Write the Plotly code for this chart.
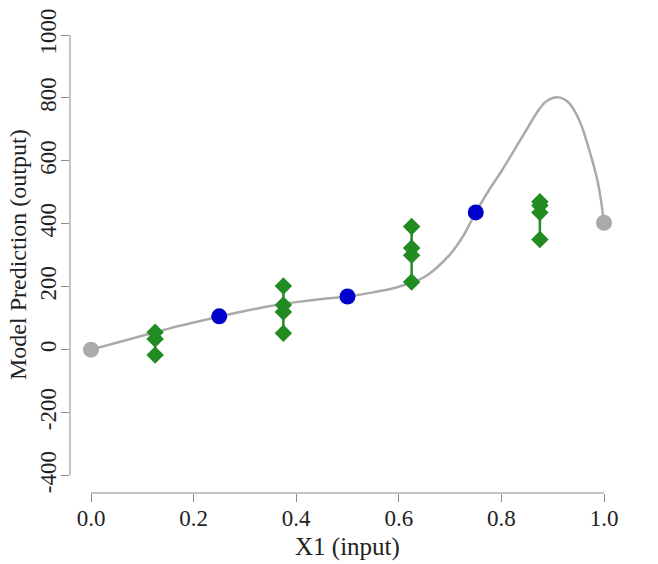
import plotly.graph_objects as go

# ---- data ----
curve_x = [0.0, 0.05, 0.1, 0.15, 0.2, 0.25, 0.3, 0.35, 0.4, 0.45, 0.5, 0.55, 0.6,
           0.65, 0.7, 0.725, 0.75, 0.775, 0.8, 0.825, 0.85, 0.87, 0.885, 0.9, 0.915,
           0.93, 0.945, 0.957, 0.968, 0.978, 0.987, 0.994, 1.0]
curve_y = [0, 22, 44, 66, 86, 105, 123, 139, 151, 161, 169, 182, 200,
           231, 303, 360, 436, 505, 567, 634, 702, 755, 786, 800, 801,
           787, 752, 708, 652, 596, 539, 476, 403]

end_x = [0.0, 1.0]
end_y = [0, 403]

design_x = [0.25, 0.5, 0.75]
design_y = [106, 169, 436]

group_x = [0.125, 0.375, 0.625, 0.875]
group_y = [
    [-17, 34, 55],
    [52, 120, 142, 202],
    [215, 300, 323, 391],
    [350, 436, 458, 470],
]

x_ticks = [0.0, 0.2, 0.4, 0.6, 0.8, 1.0]
x_tick_text = ["0.0", "0.2", "0.4", "0.6", "0.8", "1.0"]
y_ticks = [-400, -200, 0, 200, 400, 600, 800, 1000]
y_tick_text = ["-400", "-200", "0", "200", "400", "600", "800", "1000"]

GRAY = "#AAAAAA"
BLUE = "#0000CD"
GREEN = "#228B22"
AXIS = "#8a8a8a"
TEXT = "#222222"
FONT = "Liberation Serif"

# ---- layout geometry (page pixels; the page body adds an 8px offset) ----
OFF = 8
W, H = 658 - OFF, 564 - OFF
L, R, T, B = 70 - OFF, 624 - OFF, 32 - OFF, 493 - OFF   # plot-area edges
x0px, x1px = 91 - OFF, 604 - OFF                         # pixels of x=0 and x=1
ytop_px, ybot_px = 35 - OFF, 475.5 - OFF                 # pixels of y=1000 and y=-400
sx = (x1px - x0px) / 1.0
sy = (ybot_px - ytop_px) / 1400.0
x_range = [(L - x0px) / sx, (R - x0px) / sx]
y_range = [-400 - (B - ybot_px) / sy, 1000 + (ytop_px - T) / sy]

fig = go.Figure()

fig.add_trace(go.Scatter(x=curve_x, y=curve_y, mode="lines",
                         line=dict(color=GRAY, width=2.5, shape="spline", smoothing=1.0),
                         hoverinfo="skip", showlegend=False))

for gx, gy in zip(group_x, group_y):
    fig.add_trace(go.Scatter(x=[gx] * len(gy), y=sorted(gy), mode="lines+markers",
                             line=dict(color=GREEN, width=2.5),
                             marker=dict(symbol="diamond", size=13.5, color=GREEN),
                             showlegend=False))

fig.add_trace(go.Scatter(x=design_x, y=design_y, mode="markers",
                         marker=dict(symbol="circle", size=16, color=BLUE),
                         showlegend=False))
fig.add_trace(go.Scatter(x=end_x, y=end_y, mode="markers",
                         marker=dict(symbol="circle", size=16, color=GRAY),
                         cliponaxis=False, showlegend=False))

# R-style detached axis lines
fig.add_shape(type="line", xref="x", yref="paper", x0=x_ticks[0], x1=x_ticks[-1], y0=0, y1=0,
              line=dict(color=AXIS, width=1))
fig.add_shape(type="line", xref="paper", yref="y", x0=0, x1=0, y0=y_ticks[0], y1=y_ticks[-1],
              line=dict(color=AXIS, width=1))

fig.update_layout(
    width=W, height=H,
    margin=dict(l=L, r=W - R, t=T, b=H - B, pad=0, autoexpand=False),
    paper_bgcolor="white", plot_bgcolor="white",
    font=dict(family=FONT, size=23, color=TEXT),
    xaxis=dict(range=x_range, showgrid=False, zeroline=False, showline=False, automargin=False,
               tickmode="array", tickvals=x_ticks, ticktext=x_tick_text,
               ticks="outside", ticklen=8, tickwidth=1, tickcolor=AXIS,
               ticklabelstandoff=-4, tickfont=dict(size=23, color=TEXT)),
    yaxis=dict(range=y_range, showgrid=False, zeroline=False, showline=False, automargin=False,
               tickmode="array", tickvals=y_ticks, ticktext=y_tick_text,
               ticks="outside", ticklen=8, tickwidth=1, tickcolor=AXIS,
               tickangle=-90, ticklabelstandoff=-4, tickfont=dict(size=23, color=TEXT)),
    annotations=[
        dict(text="X1 (input)", xref="paper", yref="paper",
             x=((x0px + x1px) / 2 - L) / (R - L), y=(B - (547 - OFF)) / (B - T),
             showarrow=False, xanchor="center", yanchor="middle",
             font=dict(size=25, color=TEXT)),
        dict(text="Model Prediction (output)", xref="paper", yref="paper",
             x=((18 - OFF) - L) / (R - L), y=(B - (255 - OFF)) / (B - T), textangle=-90,
             showarrow=False, xanchor="center", yanchor="middle",
             font=dict(size=24, color=TEXT)),
    ],
)

fig.write_html("out.html")
